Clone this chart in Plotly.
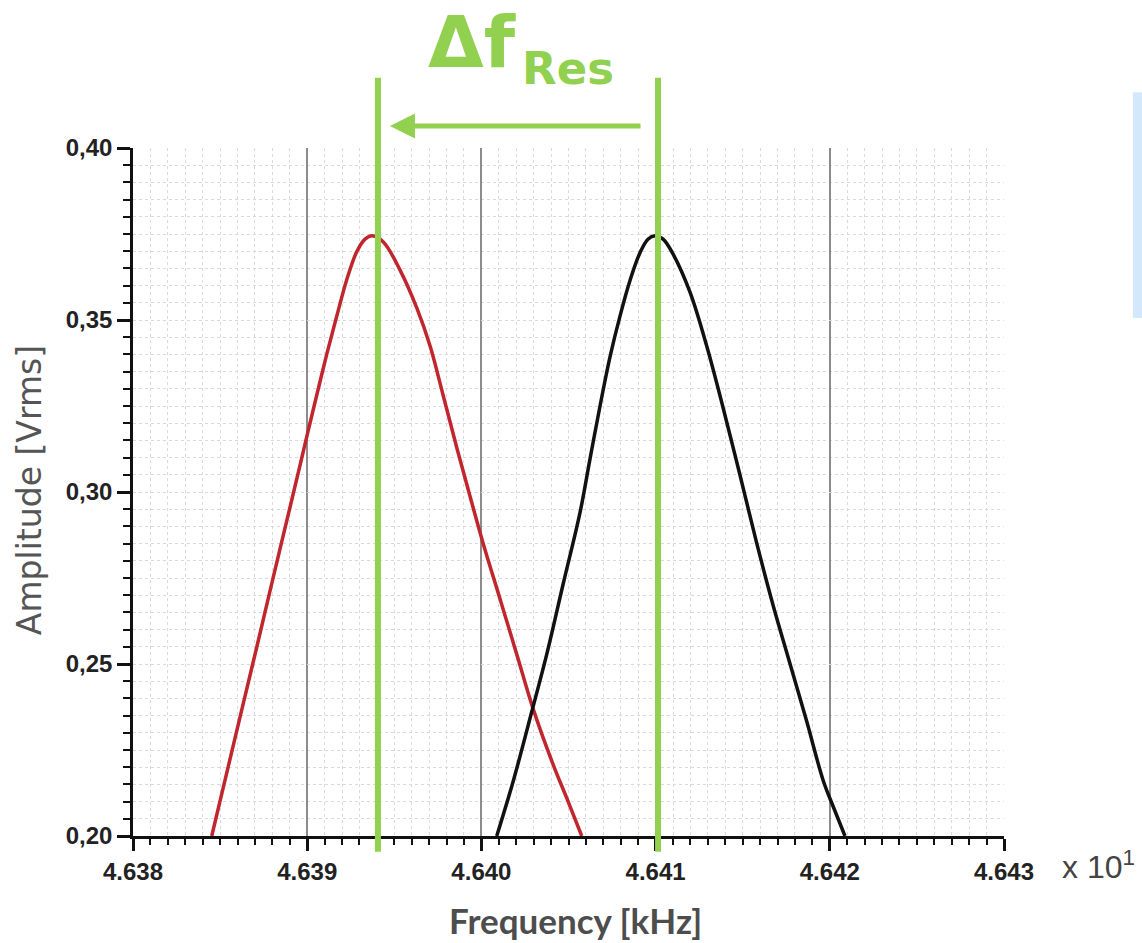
import plotly.graph_objects as go

# Frequency axis is in units of 10 kHz (hence the "x 10^1" factor)
freq_red = [4.638452, 4.638614, 4.638710, 4.638805, 4.638901, 4.638959, 4.639001,
            4.639055, 4.639112, 4.639169, 4.639227, 4.639284, 4.639332, 4.639372,
            4.639437, 4.639533, 4.639629, 4.639705, 4.639781, 4.639858, 4.639935,
            4.640011, 4.640107, 4.640203, 4.640298, 4.640413, 4.640490, 4.640576]
amp_red = [0.2000, 0.2345, 0.2548, 0.2752, 0.2955, 0.3078, 0.3168,
           0.3282, 0.3400, 0.3510, 0.3617, 0.3698, 0.3735, 0.3745,
           0.3727, 0.3645, 0.3535, 0.3425, 0.3280, 0.3130, 0.2987,
           0.2849, 0.2689, 0.2528, 0.2368, 0.2206, 0.2110, 0.2000]

freq_black = [4.640088, 4.640183, 4.640289, 4.640375, 4.640470, 4.640566, 4.640623,
              4.640681, 4.640738, 4.640796, 4.640853, 4.640910, 4.640956, 4.640997,
              4.641043, 4.641102, 4.641198, 4.641293, 4.641389, 4.641485, 4.641580,
              4.641676, 4.641772, 4.641867, 4.641963, 4.642020, 4.642087]
amp_black = [0.2000, 0.2160, 0.2361, 0.2528, 0.2734, 0.2940, 0.3095,
             0.3250, 0.3392, 0.3512, 0.3615, 0.3695, 0.3735, 0.3745,
             0.3735, 0.3690, 0.3580, 0.3425, 0.3242, 0.3048, 0.2852,
             0.2668, 0.2500, 0.2334, 0.2160, 0.2085, 0.2000]

# Resonance markers: shifted peak (left) and reference peak (right)
res_marks = [4.639406, 4.641014]
# Shift arrow: tip near the shifted resonance, tail near the reference one
arrow_tip = 4.639475
arrow_tail = 4.640922

x_tickvals = [4.638, 4.639, 4.640, 4.641, 4.642, 4.643]
x_ticktext = ["4.638", "4.639", "4.640", "4.641", "4.642", "4.643"]
y_tickvals = [0.20, 0.25, 0.30, 0.35, 0.40]
y_ticktext = ["0,20", "0,25", "0,30", "0,35", "0,40"]

GREEN = "#92D050"
X_RANGE = [4.638, 4.643]
Y_RANGE = [0.20, 0.40]

fig = go.Figure()
fig.add_trace(go.Scatter(x=freq_red, y=amp_red, mode="lines",
                         line=dict(color="#C0262D", width=3.5, shape="spline", smoothing=1.0),
                         showlegend=False, hoverinfo="skip"))
fig.add_trace(go.Scatter(x=freq_black, y=amp_black, mode="lines",
                         line=dict(color="#111111", width=3.5, shape="spline", smoothing=1.0),
                         showlegend=False, hoverinfo="skip"))

tick_font = dict(family="Liberation Sans", size=24, color="#222222", weight="bold")

fig.update_xaxes(
    range=X_RANGE, tickvals=x_tickvals, ticktext=x_ticktext, tickfont=tick_font,
    showline=True, linecolor="#111111", linewidth=2.5,
    ticks="outside", ticklen=12, tickwidth=2.5, tickcolor="#111111",
    showgrid=True, gridcolor="#8C8C8C", gridwidth=1.5,
    minor=dict(dtick=0.0001, tick0=4.638, ticks="outside", ticklen=6, tickwidth=2,
               tickcolor="#111111", showgrid=True, gridcolor="#DADADA",
               griddash="dot", gridwidth=1),
    zeroline=False, fixedrange=True,
)
fig.update_yaxes(
    range=Y_RANGE, tickvals=y_tickvals, ticktext=y_ticktext, tickfont=tick_font,
    showline=True, linecolor="#111111", linewidth=2.5,
    ticks="outside", ticklen=13, tickwidth=2.5, tickcolor="#111111",
    showgrid=True, gridcolor="#DADADA", gridwidth=1, griddash="dot",
    minor=dict(dtick=0.005, tick0=0.2, ticks="outside", ticklen=7, tickwidth=2,
               tickcolor="#111111", showgrid=True, gridcolor="#DADADA",
               griddash="dot", gridwidth=1),
    zeroline=False, fixedrange=True,
)

shapes = []
for f in res_marks:
    shapes.append(dict(type="line", xref="x", yref="paper", x0=f, x1=f,
                       y0=-0.023, y1=1.102, line=dict(color=GREEN, width=6), layer="above"))
# partially visible light-blue panel at the right edge
shapes.append(dict(type="rect", xref="paper", yref="paper", x0=1.148, x1=1.25,
                   y0=0.753, y1=1.081, fillcolor="#D3E8FB", line=dict(width=0), layer="below"))

annotations = [
    # arrow from the reference resonance towards the shifted one
    dict(x=arrow_tip, y=1.032, xref="x", yref="paper",
         ax=arrow_tail, axref="x", ay=0, ayref="pixel",
         text="", showarrow=True, arrowhead=2, arrowsize=1,
         arrowwidth=5, arrowcolor=GREEN, standoff=0),
    dict(x=0.389, y=1.154, xref="paper", yref="paper", text="Δf", showarrow=False,
         font=dict(family="DejaVu Sans", size=72, color=GREEN, weight="bold"),
         xanchor="center", yanchor="middle"),
    dict(x=0.4995, y=1.116, xref="paper", yref="paper", text="Res", showarrow=False,
         font=dict(family="DejaVu Sans", size=45, color=GREEN, weight="bold"),
         xanchor="center", yanchor="middle"),
    dict(x=-0.118, y=0.503, xref="paper", yref="paper", text="Amplitude [Vrms]",
         showarrow=False, textangle=-90,
         font=dict(family="DejaVu Sans", size=33, color="#555555"),
         xanchor="center", yanchor="middle"),
    dict(x=0.5075, y=-0.122, xref="paper", yref="paper", text="Frequency [kHz]",
         showarrow=False,
         font=dict(family="Lato", size=35, color="#4D4D4D", weight="bold"),
         xanchor="center", yanchor="middle"),
    dict(x=1.108, y=-0.042, xref="paper", yref="paper", text="x 10<sup>1</sup>",
         showarrow=False,
         font=dict(family="Liberation Sans", size=32, color="#444444"),
         xanchor="center", yanchor="middle"),
]

fig.update_layout(
    width=1142, height=943, autosize=False,
    margin=dict(l=133, r=138, t=148, b=107),
    plot_bgcolor="white", paper_bgcolor="white",
    shapes=shapes, annotations=annotations, showlegend=False,
)

fig.write_html("out.html")
